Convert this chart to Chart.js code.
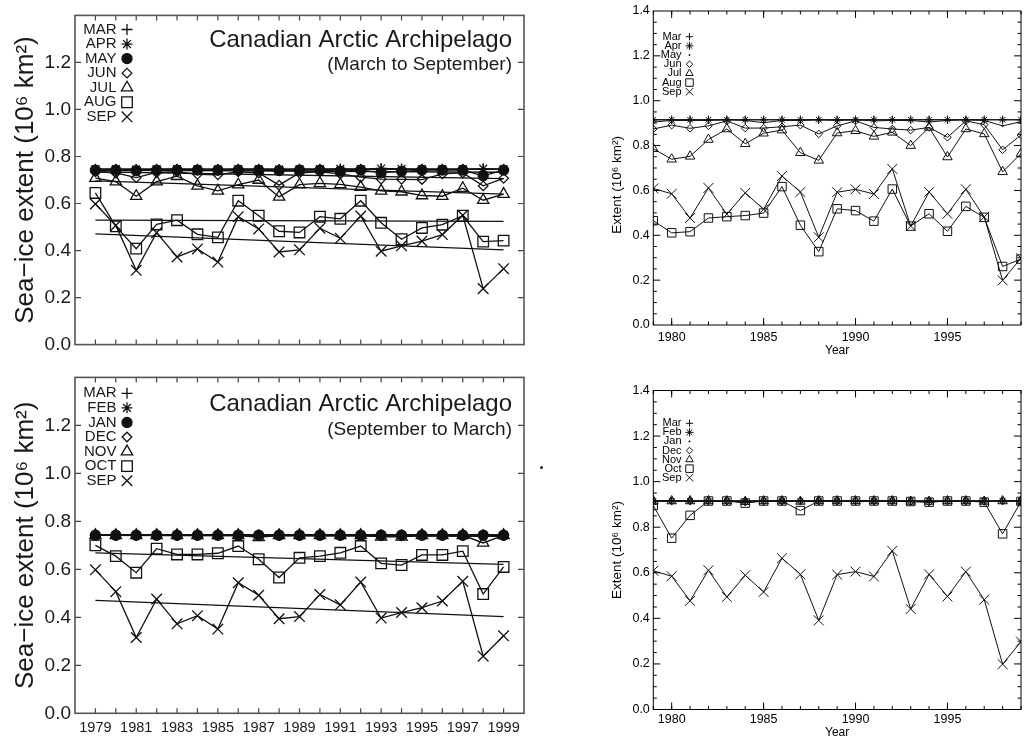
<!DOCTYPE html>
<html>
<head>
<meta charset="utf-8">
<script src="https://cdn.jsdelivr.net/npm/chart.js@4.4.1/dist/chart.umd.min.js"></script>
<style>
html,body{margin:0;padding:0;background:#fff;}
body{width:1029px;height:740px;position:relative;overflow:hidden;}
canvas{position:absolute;display:block;}
#dot{position:absolute;left:539.5px;top:466px;width:3px;height:3px;border-radius:50%;background:#222;}
</style>
</head>
<body>
<canvas id="cTL" width="540" height="360" style="left:0;top:0;width:540px;height:360px"></canvas>
<canvas id="cBL" width="540" height="378" style="left:0;top:362px;width:540px;height:378px"></canvas>
<canvas id="cTR" width="429" height="360" style="left:600px;top:0;width:429px;height:360px"></canvas>
<canvas id="cBR" width="429" height="370" style="left:600px;top:370px;width:429px;height:370px"></canvas>
<div id="dot"></div>
<script>
// ---------- categories ----------
const years = [1979,1980,1981,1982,1983,1984,1985,1986,1987,1988,1989,1990,1991,1992,1993,1994,1995,1996,1997,1998,1999];

// ---------- tick labels ----------
const xLabelsLeft  = ['1979','1981','1983','1985','1987','1989','1991','1993','1995','1997','1999'];
const xLabelsRight = ['1980','1985','1990','1995'];
const yLabelsLeft  = ['0.0','0.2','0.4','0.6','0.8','1.0','1.2',''];
const yLabelsRight = ['0.0','0.2','0.4','0.6','0.8','1.0','1.2','1.4'];

// ---------- legend labels ----------
const legendA = ['MAR','APR','MAY','JUN','JUL','AUG','SEP'];
const legendB = ['MAR','FEB','JAN','DEC','NOV','OCT','SEP'];
const legendC = ['Mar','Apr','May','Jun','Jul','Aug','Sep'];
const legendD = ['Mar','Feb','Jan','Dec','Nov','Oct','Sep'];

// ---------- panel A (left top, March to September) ----------
const aMar = [0.745,0.745,0.745,0.745,0.745,0.745,0.745,0.745,0.745,0.745,0.745,0.745,0.745,0.745,0.745,0.745,0.745,0.745,0.745,0.745,0.745];
const aApr = [0.746,0.746,0.745,0.746,0.746,0.746,0.745,0.746,0.746,0.745,0.746,0.746,0.747,0.746,0.749,0.747,0.746,0.746,0.746,0.748,0.746];
const aMay = [0.742,0.742,0.740,0.742,0.742,0.742,0.742,0.742,0.742,0.740,0.742,0.742,0.738,0.742,0.731,0.737,0.742,0.742,0.742,0.718,0.742];
const aJun = [0.735,0.730,0.710,0.732,0.735,0.724,0.722,0.735,0.730,0.678,0.730,0.735,0.726,0.712,0.704,0.703,0.702,0.726,0.730,0.675,0.707];
const aJul = [0.708,0.693,0.631,0.693,0.716,0.675,0.654,0.680,0.700,0.628,0.680,0.686,0.681,0.670,0.654,0.650,0.634,0.631,0.665,0.614,0.640];
const aAug = [0.645,0.503,0.408,0.511,0.529,0.469,0.456,0.612,0.548,0.482,0.477,0.544,0.535,0.612,0.518,0.448,0.496,0.510,0.548,0.438,0.442];
const sepLeft = [0.598,0.507,0.316,0.476,0.373,0.407,0.351,0.544,0.492,0.394,0.403,0.495,0.452,0.547,0.397,0.420,0.440,0.468,0.550,0.238,0.323];
const aTrendStart = [0.745,0.745,0.742,0.735,0.696,0.529,0.471];
const aTrendEnd   = [0.745,0.745,0.733,0.706,0.640,0.524,0.403];

// ---------- panel B (left bottom, September to March) ----------
const bMar = [0.743,0.743,0.743,0.743,0.743,0.743,0.743,0.743,0.743,0.743,0.743,0.743,0.743,0.743,0.743,0.743,0.743,0.743,0.743,0.743,0.743];
const bFeb = [0.743,0.743,0.743,0.743,0.743,0.743,0.743,0.743,0.743,0.743,0.743,0.743,0.743,0.743,0.743,0.743,0.743,0.743,0.743,0.743,0.743];
const bJan = [0.742,0.742,0.742,0.742,0.742,0.742,0.742,0.742,0.742,0.742,0.742,0.742,0.742,0.742,0.742,0.742,0.742,0.742,0.742,0.742,0.742];
const bDec = [0.742,0.742,0.742,0.742,0.742,0.742,0.742,0.742,0.740,0.742,0.742,0.742,0.742,0.742,0.740,0.740,0.742,0.742,0.742,0.740,0.742];
const bNov = [0.742,0.742,0.742,0.742,0.742,0.742,0.742,0.742,0.733,0.742,0.742,0.742,0.742,0.742,0.735,0.735,0.742,0.742,0.742,0.710,0.742];
const bOct = [0.700,0.655,0.586,0.686,0.662,0.662,0.667,0.697,0.642,0.566,0.648,0.655,0.669,0.697,0.625,0.618,0.660,0.660,0.676,0.497,0.610];
const bTrendStart = [0.743,0.743,0.742,0.742,0.742,0.669,0.471];
const bTrendEnd   = [0.743,0.743,0.742,0.740,0.737,0.621,0.403];

// ---------- panel C (right top) ----------
const cMar = [0.915,0.915,0.915,0.915,0.915,0.915,0.915,0.915,0.915,0.915,0.915,0.915,0.915,0.915,0.915,0.915,0.915,0.915,0.915,0.915,0.915];
const cApr = [0.915,0.915,0.915,0.915,0.915,0.915,0.915,0.915,0.915,0.915,0.915,0.915,0.915,0.915,0.915,0.915,0.915,0.915,0.915,0.915,0.915];
const cMay = [0.905,0.912,0.912,0.912,0.915,0.912,0.902,0.912,0.912,0.915,0.912,0.915,0.910,0.912,0.912,0.905,0.912,0.915,0.912,0.888,0.906];
const cJun = [0.874,0.891,0.877,0.888,0.910,0.878,0.878,0.884,0.891,0.852,0.888,0.910,0.881,0.874,0.869,0.881,0.837,0.910,0.893,0.781,0.847];
const cJul = [0.786,0.739,0.752,0.827,0.874,0.808,0.855,0.869,0.768,0.734,0.856,0.866,0.841,0.859,0.800,0.881,0.749,0.874,0.852,0.683,0.764];
const cAug = [0.465,0.411,0.416,0.477,0.483,0.488,0.499,0.617,0.445,0.327,0.518,0.510,0.463,0.606,0.441,0.496,0.418,0.529,0.480,0.261,0.294];
const sepRight = [0.609,0.585,0.477,0.611,0.494,0.589,0.516,0.664,0.593,0.391,0.592,0.605,0.584,0.696,0.441,0.593,0.496,0.605,0.482,0.199,0.298];

// ---------- panel D (right bottom) ----------
const dMar = [0.915,0.915,0.915,0.915,0.915,0.915,0.915,0.915,0.915,0.915,0.915,0.915,0.915,0.915,0.915,0.915,0.915,0.915,0.915,0.915,0.915];
const dFeb = [0.915,0.915,0.915,0.915,0.915,0.915,0.915,0.915,0.915,0.915,0.915,0.915,0.915,0.915,0.915,0.915,0.915,0.915,0.915,0.915,0.915];
const dJan = [0.915,0.915,0.915,0.915,0.915,0.915,0.915,0.915,0.915,0.915,0.915,0.915,0.915,0.915,0.915,0.915,0.915,0.915,0.915,0.915,0.915];
const dDec = [0.915,0.915,0.915,0.915,0.915,0.910,0.915,0.915,0.915,0.915,0.915,0.915,0.915,0.915,0.913,0.910,0.915,0.915,0.913,0.915,0.915];
const dNov = [0.915,0.915,0.915,0.915,0.915,0.912,0.915,0.915,0.913,0.915,0.915,0.915,0.915,0.915,0.913,0.913,0.915,0.915,0.913,0.915,0.915];
const dOct = [0.895,0.752,0.852,0.915,0.915,0.906,0.915,0.915,0.873,0.915,0.915,0.915,0.915,0.915,0.913,0.910,0.915,0.915,0.910,0.771,0.913];

// ---------- drawing helpers ----------
const INK = '#111';
const FONT = '"Liberation Sans", Arial, Helvetica, sans-serif';
const symL = [{s:'cross',r:5.5},{s:'star',r:5.5},{s:'circle',r:5,f:true},{s:'rectRot',r:4.8},{s:'triangle',r:6.5},{s:'rect',r:7.5},{s:'crossRot',r:7.5}];
const symR = [{s:'cross',r:4},{s:'star',r:4},{s:'circle',r:0.8,f:true},{s:'rectRot',r:3.8},{s:'triangle',r:5.5},{s:'rect',r:6},{s:'crossRot',r:7}];
const symRLeg = [{s:'cross',r:3.6},{s:'star',r:4},{s:'circle',r:0.6,f:true},{s:'rectRot',r:3.3},{s:'triangle',r:4.3},{s:'rect',r:5.3},{s:'crossRot',r:5.2}];

function pts(vals){ return vals.map((v,i)=>({x:years[i], y:v})); }
function series(vals, st, lw){
  return {data:pts(vals), borderColor:INK, borderWidth:lw, pointStyle:st.s, pointRadius:st.r, pointHoverRadius:st.r,
    pointBorderColor:INK, pointBorderWidth:lw, pointBackgroundColor: st.f ? INK : 'rgba(0,0,0,0)', fill:false, tension:0};
}
function trendLine(a, b, lw){
  return {data:[{x:years[0],y:a},{x:years[years.length-1],y:b}], borderColor:INK, borderWidth:lw,
    pointRadius:0, pointHoverRadius:0, fill:false, tension:0};
}

function makePlugins(cfg){
  const frame = {
    id:'frame',
    afterDatasetsDraw(chart){
      const {ctx, chartArea:a, scales:{x, y}} = chart;
      ctx.save();
      ctx.strokeStyle = cfg.tickColor; ctx.lineWidth = cfg.tickLw;
      ctx.beginPath();
      const xt = (vals, len) => vals.forEach(v => {
        const p = x.getPixelForValue(v);
        ctx.moveTo(p, a.bottom); ctx.lineTo(p, a.bottom - len);
        ctx.moveTo(p, a.top); ctx.lineTo(p, a.top + len);
      });
      const yt = (vals, len) => vals.forEach(v => {
        const p = y.getPixelForValue(v);
        ctx.moveTo(a.left, p); ctx.lineTo(a.left + len, p);
        ctx.moveTo(a.right, p); ctx.lineTo(a.right - len, p);
      });
      xt(cfg.xMinor, cfg.xMinorLen); xt(cfg.xMajor, cfg.xMajorLen);
      yt(cfg.yMinor, cfg.yMinorLen); yt(cfg.yMajor, cfg.yMajorLen);
      ctx.stroke();
      ctx.strokeStyle = cfg.frameColor; ctx.lineWidth = cfg.frameLw;
      ctx.strokeRect(a.left, a.top, a.right - a.left, a.bottom - a.top);
      ctx.restore();
    }
  };
  const texts = {
    id:'texts',
    afterDraw(chart){
      const ctx = chart.ctx;
      (cfg.texts || []).forEach(t => {
        ctx.save();
        ctx.font = t.font; ctx.fillStyle = cfg.textColor; ctx.textAlign = t.align; ctx.textBaseline = 'alphabetic';
        ctx.fillText(t.text, t.x, t.y);
        ctx.restore();
      });
      const L = cfg.legend;
      if (L) {
        L.labels.forEach((lab, i) => {
          const yy = L.y0 + i * L.dy;
          ctx.save();
          ctx.font = L.font; ctx.fillStyle = cfg.textColor; ctx.textAlign = 'right'; ctx.textBaseline = 'middle';
          ctx.fillText(lab, L.xText, yy);
          const st = L.syms[i];
          ctx.strokeStyle = INK; ctx.fillStyle = st.f ? INK : 'rgba(0,0,0,0)'; ctx.lineWidth = L.lw;
          Chart.helpers.drawPoint(ctx, {pointStyle: st.s, radius: st.r, rotation: 0, borderWidth: L.lw}, L.xSym, yy);
          ctx.restore();
        });
      }
    }
  };
  return [frame, texts];
}

function build(id, o){
  return new Chart(document.getElementById(id), {
    type:'line',
    data:{datasets:o.datasets},
    options:{
      responsive:false, animation:false, devicePixelRatio:1, events:[],
      layout:{padding:o.pad},
      plugins:{legend:{display:false}, tooltip:{enabled:false}, title:{display:false}},
      scales:{
        x:{type:'linear', min:o.xmin, max:o.xmax,
          grid:{display:false, drawTicks:false}, border:{display:false},
          ticks:{display:!!o.xLabels, stepSize:1, autoSkip:false, maxRotation:0, minRotation:0, padding:o.xPad,
            color:o.textColor, font:{family:FONT, size:o.xFont, lineHeight:1.2},
            callback:(v)=> (o.xLabels && o.xLabels.includes(String(v))) ? String(v) : ''},
          title:{display:!!o.xTitle, text:o.xTitle || '', color:o.textColor,
            font:{family:FONT, size:o.xTitleFont || 12, lineHeight:1.2}, padding:{top:0, bottom:o.xTitlePad || 0}},
          afterFit:(s)=>{ s.height = o.xH; }},
        y:{type:'linear', min:0, max:1.4,
          grid:{display:false, drawTicks:false}, border:{display:false},
          ticks:{stepSize:0.2, autoSkip:false, padding:o.yPad, color:o.textColor,
            font:{family:FONT, size:o.yFont, lineHeight:1.2},
            callback:(v, i)=> (o.yLabels[i] !== undefined ? o.yLabels[i] : '')},
          title:{display:true, text:o.yTitle, color:o.textColor,
            font:{family:FONT, size:o.yTitleFont, lineHeight:1.2}, padding:{top:o.yTitlePad, bottom:0}},
          afterFit:(s)=>{ s.width = o.yW; }}
      }
    },
    plugins: makePlugins(o)
  });
}

const yMajorL = [0.2,0.4,0.6,0.8,1.0,1.2];
const yMinorR = []; for (let k = 1; k < 28; k++) { if (k % 4 !== 0) yMinorR.push(k * 0.05); }

// ---------- panel A ----------
const aSeries = [aMar, aApr, aMay, aJun, aJul, aAug, sepLeft];
build('cTL', {
  datasets: aSeries.map((v,i)=>series(v, symL[i], 1.3)).concat(aTrendStart.map((s,i)=>trendLine(s, aTrendEnd[i], 1.3))),
  pad:{top:10, right:16, left:0, bottom:0}, xmin:1978, xmax:2000, xH:10.7, xLabels:null,
  yW:75, yPad:4, yFont:19, yLabels:yLabelsLeft, yTitle:'Sea\u2212ice extent (10\u2076 km\u00b2)', yTitleFont:26, yTitlePad:10,
  textColor:'#1a1a1a', tickColor:'#444', tickLw:1.2, frameColor:'#555', frameLw:1.6,
  xMinor:years, xMinorLen:5, xMajor:[], xMajorLen:0, yMinor:[], yMinorLen:0, yMajor:yMajorL, yMajorLen:6,
  texts:[{text:'Canadian Arctic Archipelago', x:512, y:46.5, font:'24px '+FONT, align:'right'},
         {text:'(March to September)', x:512, y:70, font:'19px '+FONT, align:'right'}],
  legend:{labels:legendA, syms:symL, xText:116.5, xSym:127, y0:29.5, dy:14.55, font:'15px '+FONT, lw:1.3}
});

// ---------- panel B ----------
const bSeries = [bMar, bFeb, bJan, bDec, bNov, bOct, sepLeft];
build('cBL', {
  datasets: bSeries.map((v,i)=>series(v, symL[i], 1.3)).concat(bTrendStart.map((s,i)=>trendLine(s, bTrendEnd[i], 1.3))),
  pad:{top:12, right:16, left:0, bottom:0}, xmin:1978, xmax:2000, xH:26.7, xLabels:xLabelsLeft, xPad:6, xFont:14.5,
  yW:75, yPad:4, yFont:19, yLabels:yLabelsLeft, yTitle:'Sea\u2212ice extent (10\u2076 km\u00b2)', yTitleFont:26, yTitlePad:10,
  textColor:'#1a1a1a', tickColor:'#444', tickLw:1.2, frameColor:'#555', frameLw:1.6,
  xMinor:years, xMinorLen:5, xMajor:[], xMajorLen:0, yMinor:[], yMinorLen:0, yMajor:yMajorL, yMajorLen:6,
  texts:[{text:'Canadian Arctic Archipelago', x:512, y:48.7, font:'24px '+FONT, align:'right'},
         {text:'(September to March)', x:512, y:73, font:'19px '+FONT, align:'right'}],
  legend:{labels:legendB, syms:symL, xText:116.5, xSym:127, y0:31.3, dy:14.57, font:'15px '+FONT, lw:1.3}
});

// ---------- panel C ----------
const cSeries = [cMar, cApr, cMay, cJun, cJul, cAug, sepRight];
build('cTR', {
  datasets: cSeries.map((v,i)=>series(v, symR[i], 1)),
  pad:{top:7, right:4, left:0, bottom:0}, xmin:1979, xmax:1999, xH:35, xLabels:xLabelsRight, xPad:5, xFont:12.5,
  xTitle:'Year', xTitleFont:12, xTitlePad:2.5,
  yW:53.3, yPad:3.5, yFont:12.5, yLabels:yLabelsRight, yTitle:'Extent (10\u2076 km\u00b2)\u2002\u2002\u2002\u2002\u2002', yTitleFont:13.5, yTitlePad:9,
  textColor:'#000', tickColor:'#000', tickLw:1, frameColor:'#000', frameLw:1,
  xMinor:years, xMinorLen:3.5, xMajor:[1980,1985,1990,1995], xMajorLen:7, yMinor:yMinorR, yMinorLen:3.5, yMajor:yMajorL, yMajorLen:7,
  texts:[],
  legend:{labels:legendC, syms:symRLeg, xText:81.5, xSym:89.5, y0:36.7, dy:9.17, font:'11px '+FONT, lw:1}
});

// ---------- panel D ----------
const dSeries = [dMar, dFeb, dJan, dDec, dNov, dOct, sepRight];
build('cBR', {
  datasets: dSeries.map((v,i)=>series(v, symR[i], 1)),
  pad:{top:20.5, right:4, left:0, bottom:0}, xmin:1979, xmax:1999, xH:30.5, xLabels:xLabelsRight, xPad:3, xFont:12.5,
  xTitle:'Year', xTitleFont:12, xTitlePad:0,
  yW:53.3, yPad:3.5, yFont:12.5, yLabels:yLabelsRight, yTitle:'Extent (10\u2076 km\u00b2)', yTitleFont:13.5, yTitlePad:9,
  textColor:'#000', tickColor:'#000', tickLw:1, frameColor:'#000', frameLw:1,
  xMinor:years, xMinorLen:3.5, xMajor:[1980,1985,1990,1995], xMajorLen:7, yMinor:yMinorR, yMinorLen:3.5, yMajor:yMajorL, yMajorLen:7,
  texts:[],
  legend:{labels:legendD, syms:symRLeg, xText:81.5, xSym:89.5, y0:53.3, dy:9.07, font:'11px '+FONT, lw:1}
});
</script>
</body>
</html>
